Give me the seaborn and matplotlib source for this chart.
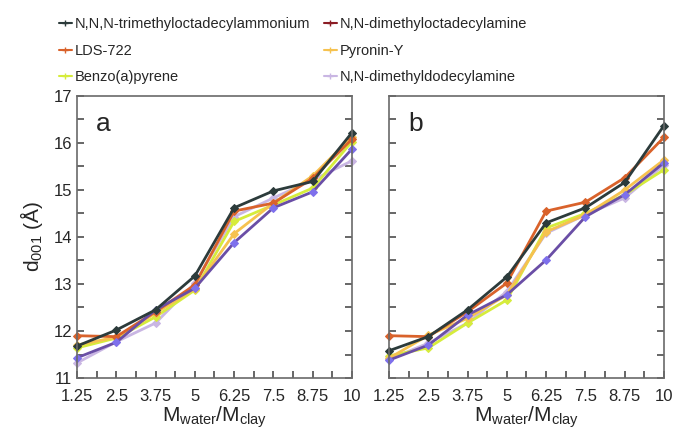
import matplotlib
matplotlib.use("Agg")
import matplotlib.pyplot as plt
import pandas as pd
import seaborn as sns
from matplotlib.lines import Line2D

ratio = [1.25, 2.5, 3.75, 5, 6.25, 7.5, 8.75, 10]
ratio_labels = ["1.25", "2.5", "3.75", "5", "6.25", "7.5", "8.75", "10"]

names = [
    "N,N,N-trimethyloctadecylammonium",
    "N,N-dimethyloctadecylamine",
    "LDS-722",
    "Pyronin-Y",
    "Benzo(a)pyrene",
    "N,N-dimethyldodecylamine",
]

# painel a
a_trimethyl = [11.68, 12.02, 12.45, 13.17, 14.62, 14.98, 15.18, 16.22]
a_dimethyl18 = [11.43, 11.76, 12.45, 12.91, 13.88, 14.62, 14.96, 15.87]
a_lds = [11.90, 11.88, 12.41, 12.98, 14.55, 14.72, 15.25, 16.08]
a_pyronin = [11.70, 11.87, 12.38, 12.90, 14.07, 14.72, 15.30, 16.13]
a_benzo = [11.64, 11.85, 12.30, 12.87, 14.33, 14.68, 15.04, 16.03]
a_dimethyl12 = [11.32, 11.77, 12.17, 13.02, 14.43, 14.83, 15.21, 15.62]

# painel b
b_trimethyl = [11.58, 11.88, 12.45, 13.15, 14.30, 14.62, 15.16, 16.37]
b_dimethyl18 = [11.38, 11.70, 12.34, 12.77, 13.51, 14.43, 14.90, 15.58]
b_lds = [11.90, 11.88, 12.41, 13.02, 14.55, 14.74, 15.26, 16.12]
b_pyronin = [11.42, 11.91, 12.27, 12.77, 14.11, 14.47, 15.00, 15.64]
b_benzo = [11.47, 11.64, 12.17, 12.66, 14.19, 14.50, 14.90, 15.43]
b_dimethyl12 = [11.40, 11.74, 12.17, 12.84, 14.08, 14.47, 14.83, 15.53]

# cores das linhas, dos marcadores e da legenda
line_colors = ["#2c3b3b", "#6a4ea6", "#d9622b", "#f6c24f", "#d6ec3c", "#c9b6e3"]
marker_colors = ["#2c3b3b", "#7e70ec", "#d9622b", "#f6c24f", "#d6ec3c", "#c9b6e3"]
legend_colors = ["#2c3b3b", "#8b1c24", "#d9622b", "#f6c24f", "#d6ec3c", "#c9b6e3"]
draw_order = [5, 4, 3, 2, 1, 0]

panels = {
    "a": [a_trimethyl, a_dimethyl18, a_lds, a_pyronin, a_benzo, a_dimethyl12],
    "b": [b_trimethyl, b_dimethyl18, b_lds, b_pyronin, b_benzo, b_dimethyl12],
}

sns.set_style("white")
plt.rcParams["font.family"] = ["Liberation Sans", "DejaVu Sans"]
plt.rcParams["mathtext.fontset"] = "custom"
plt.rcParams["mathtext.rm"] = "Liberation Sans"
plt.rcParams["mathtext.it"] = "Liberation Sans:italic"

fig = plt.figure(figsize=(6.73, 4.34), dpi=100)
ax_a = fig.add_axes([0.1144, 0.129, 0.4086, 0.650])
ax_b = fig.add_axes([0.578, 0.129, 0.4086, 0.650])

for ax, (letter, series) in zip([ax_a, ax_b], panels.items()):
    for i in draw_order:
        df = pd.DataFrame({"ratio": ratio, "d001": series[i]})
        sns.lineplot(
            data=df, x="ratio", y="d001", ax=ax,
            color=line_colors[i], linewidth=2.0,
            marker="D", markersize=4,
            markerfacecolor=marker_colors[i], markeredgecolor=marker_colors[i],
            clip_on=False,
        )
    ax.set_xlim(1.25, 10)
    ax.set_ylim(11, 17)
    ax.set_xticks(ratio)
    ax.set_xticklabels(ratio_labels, fontsize=12)
    ax.set_xticks([r + 0.625 for r in ratio[:-1]], minor=True)
    ax.set_yticks([11, 12, 13, 14, 15, 16, 17])
    ax.set_yticks([11.5, 12.5, 13.5, 14.5, 15.5, 16.5], minor=True)
    # marcas para dentro, em baixo, à esquerda e à direita
    ax.tick_params(which="both", direction="in", length=5, width=1.3,
                   color="#5a5a5a", bottom=True, left=True, right=True, top=False)
    ax.tick_params(axis="x", pad=8)
    ax.tick_params(axis="y", labelsize=12)
    for sp in ax.spines.values():
        sp.set_color("#6a6a6a")
        sp.set_linewidth(1.2)
    ax.set_xlabel(r"M$_{\mathrm{water}}$/M$_{\mathrm{clay}}$", fontsize=15, labelpad=0)
    ax.set_ylabel("")
    ax.text(0.07, 0.9, letter, transform=ax.transAxes, fontsize=19, va="center")

ax_b.set_yticklabels([])
ax_a.set_ylabel(r"d$_{001}$ (Å)", fontsize=15, labelpad=6)

# legenda em duas colunas, preenchida por linha
order = [0, 2, 4, 1, 3, 5]
handles = [
    Line2D([0], [0], color=legend_colors[i], marker="+", markersize=5, linewidth=1.5)
    for i in order
]
fig.legend(
    handles, [names[i] for i in order], loc="upper left",
    bbox_to_anchor=(0.068, 0.99), ncol=2, frameon=False, fontsize=10.5,
    handlelength=0.9, handletextpad=0.2, columnspacing=0.9, labelspacing=0.85,
)

fig.savefig("out.png", dpi=100)
